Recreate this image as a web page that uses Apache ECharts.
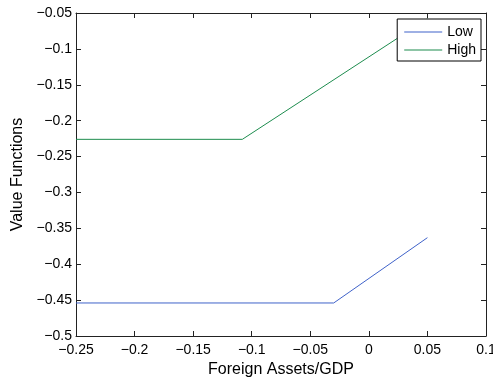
<!DOCTYPE html>
<html>
<head>
<meta charset="utf-8">
<script src="https://cdn.jsdelivr.net/npm/echarts@6/dist/echarts.min.js"></script>
<style>
  html, body { margin: 0; padding: 0; background: #fff; overflow: hidden; }
  #chart { width: 493px; height: 379px; }
</style>
</head>
<body>
<div id="chart"></div>
<script>
const FONT = "'Liberation Sans', Arial, Helvetica, sans-serif"

// foreign assets / GDP grid points and value functions
const lowAssets = [-0.25, -0.03, 0.05]
const lowValues = [-0.454, -0.454, -0.363]
const highAssets = [-0.25, -0.108, 0.05]
const highValues = [-0.226, -0.226, -0.058]

const seriesNames = ['Low', 'High']
const xTitle = 'Foreign Assets/GDP'
const yTitle = 'Value Functions'

const COLORS = { low: '#3f62c9', high: '#1d8c4e', axis: '#222' }

function fmt(v) {
  const s = String(parseFloat(v.toFixed(2)))
  return s.replace('-', '\u2212')
}

function pairs(xs, ys) {
  return xs.map((x, i) => [x, ys[i]])
}

const tickStyle = { show: true, inside: true, length: 5, lineStyle: { color: COLORS.axis } }
const lineStyle = { lineStyle: { color: COLORS.axis, width: 1 } }

const chart = echarts.init(document.getElementById('chart'), null, { renderer: 'canvas' })

chart.setOption({
  animation: false,
  textStyle: { fontFamily: FONT },
  grid: { left: 76, top: 13, right: 7, bottom: 43, containLabel: false, outerBoundsMode: 'none' },
  legend: {
    data: seriesNames.map(n => ({ name: n, icon: 'rect' })),
    orient: 'vertical',
    right: 12,
    top: 19,
    padding: [6, 5, 4, 7],
    itemGap: 4,
    itemWidth: 38,
    itemHeight: 1,
    backgroundColor: '#fff',
    borderColor: '#000',
    borderWidth: 1,
    borderRadius: 0,
    textStyle: { fontFamily: FONT, fontSize: 14, lineHeight: 14, color: '#000' },
  },
  xAxis: [
    {
      type: 'value',
      min: -0.25,
      max: 0.1,
      interval: 0.05,
      name: xTitle,
      nameLocation: 'middle',
      nameGap: 25,
      nameTextStyle: { fontFamily: FONT, fontSize: 16, color: '#000' },
      axisLine: { show: true, onZero: false, ...lineStyle },
      axisTick: tickStyle,
      axisLabel: { formatter: fmt, fontFamily: FONT, fontSize: 14, color: '#000', margin: 7 },
      splitLine: { show: false },
    },
    {
      type: 'value',
      position: 'top',
      min: -0.25,
      max: 0.1,
      interval: 0.05,
      axisLine: { show: true, onZero: false, ...lineStyle },
      axisTick: tickStyle,
      axisLabel: { show: false },
      splitLine: { show: false },
    },
  ],
  yAxis: [
    {
      type: 'value',
      min: -0.5,
      max: -0.05,
      interval: 0.05,
      name: yTitle,
      nameLocation: 'middle',
      nameGap: 50,
      nameTextStyle: { fontFamily: FONT, fontSize: 16, color: '#000' },
      axisLine: { show: true, onZero: false, ...lineStyle },
      axisTick: tickStyle,
      axisLabel: { formatter: fmt, fontFamily: FONT, fontSize: 14, color: '#000', margin: 4 },
      splitLine: { show: false },
    },
    {
      type: 'value',
      position: 'right',
      min: -0.5,
      max: -0.05,
      interval: 0.05,
      axisLine: { show: true, onZero: false, ...lineStyle },
      axisTick: tickStyle,
      axisLabel: { show: false },
      splitLine: { show: false },
    },
  ],
  series: [
    {
      name: seriesNames[0],
      type: 'line',
      data: pairs(lowAssets, lowValues),
      symbol: 'none',
      lineStyle: { color: COLORS.low, width: 1 },
      itemStyle: { color: COLORS.low },
    },
    {
      name: seriesNames[1],
      type: 'line',
      data: pairs(highAssets, highValues),
      symbol: 'none',
      lineStyle: { color: COLORS.high, width: 1 },
      itemStyle: { color: COLORS.high },
    },
  ],
})
</script>
</body>
</html>
